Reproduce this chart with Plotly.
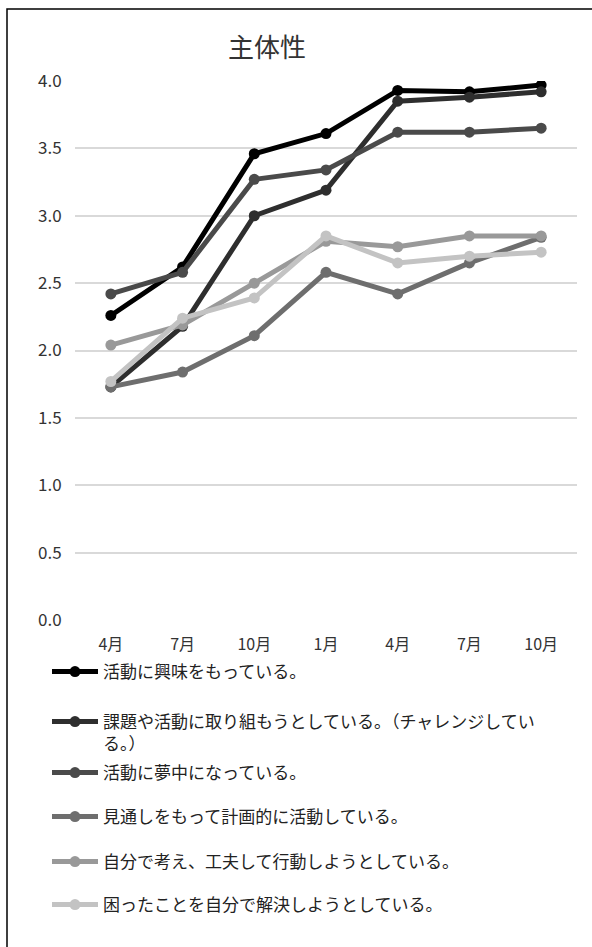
import plotly.graph_objects as go

months = ["4月", "7月", "10月", "1月", "4月 ", "7月 ", "10月 "]
tick_text = ["4月", "7月", "10月", "1月", "4月", "7月", "10月"]

names = [
    "活動に興味をもっている。",
    "課題や活動に取り組もうとしている。（チャレンジしてい<br>る。）",
    "活動に夢中になっている。",
    "見通しをもって計画的に活動している。",
    "自分で考え、工夫して行動しようとしている。",
    "困ったことを自分で解決しようとしている。",
]
s1 = [2.26, 2.62, 3.46, 3.61, 3.93, 3.92, 3.97]
s2 = [1.73, 2.18, 3.00, 3.19, 3.85, 3.88, 3.92]
s3 = [2.42, 2.58, 3.27, 3.34, 3.62, 3.62, 3.65]
s4 = [1.73, 1.84, 2.11, 2.58, 2.42, 2.65, 2.84]
s5 = [2.04, 2.19, 2.50, 2.81, 2.77, 2.85, 2.85]
s6 = [1.77, 2.24, 2.39, 2.85, 2.65, 2.70, 2.73]
series = [s1, s2, s3, s4, s5, s6]
colors = ["#000000", "#2e2e2e", "#4a4a4a", "#6e6e6e", "#999999", "#c3c3c3"]

W, H = 592, 947
L, R, T, B = 75, W - 577, 81, H - 620
ph = H - T - B
pw = W - L - R

def py(p):
    return (H - B - p) / ph

def px(p):
    return (p - L) / pw

FONT = "Noto Sans CJK JP, Noto Sans, sans-serif"

fig = go.Figure()
legend_tops = [654, 704, 755, 799, 844, 887]
for i, (nm, ys, c) in enumerate(zip(names, series, colors)):
    lg = "legend" if i == 0 else f"legend{i+1}"
    fig.add_trace(go.Scatter(
        x=months, y=ys, name=nm, mode="lines+markers",
        line=dict(color=c, width=5),
        marker=dict(color=c, size=11),
        legend=lg,
    ))

layout_legends = {}
for i, top in enumerate(legend_tops):
    key = "legend" if i == 0 else f"legend{i+1}"
    layout_legends[key] = dict(
        x=px(47), y=py(top), xanchor="left", yanchor="top",
        bgcolor="rgba(0,0,0,0)", borderwidth=0,
        font=dict(family=FONT, size=17, color="#222222"),
        itemwidth=46, valign="top",
    )

fig.update_layout(
    width=W, height=H, autosize=False,
    margin=dict(l=L, r=R, t=T, b=B),
    paper_bgcolor="white", plot_bgcolor="white",
    title=dict(text="主体性", x=px(267), xref="paper", xanchor="center",
               y=1 - 48 / H, yref="container", yanchor="middle",
               font=dict(family=FONT, size=26, color="#333333")),
    showlegend=True,
    font=dict(family=FONT),
    **layout_legends,
)
fig.update_xaxes(
    type="category", range=[-0.5, 6.5],
    tickvals=months, ticktext=tick_text,
    showgrid=False, showline=False, zeroline=False,
    ticks="outside", ticklen=10, tickcolor="rgba(0,0,0,0)",
    tickfont=dict(family=FONT, size=16, color="#333333"),
)
fig.update_yaxes(
    range=[0, 4.0], dtick=0.5, tickformat=".1f",
    showgrid=True, gridcolor="#d9d9d9", gridwidth=2,
    zeroline=False, showline=False,
    ticks="outside", ticklen=9, tickcolor="rgba(0,0,0,0)",
    tickfont=dict(family=FONT, size=17, color="#333333"),
)
fig.add_shape(type="rect", xref="paper", yref="paper",
              x0=px(7), x1=px(W + 20), y0=py(H + 20), y1=py(9),
              line=dict(color="#000000", width=1.5), fillcolor="rgba(0,0,0,0)",
              layer="below")
fig.write_html("out.html")
